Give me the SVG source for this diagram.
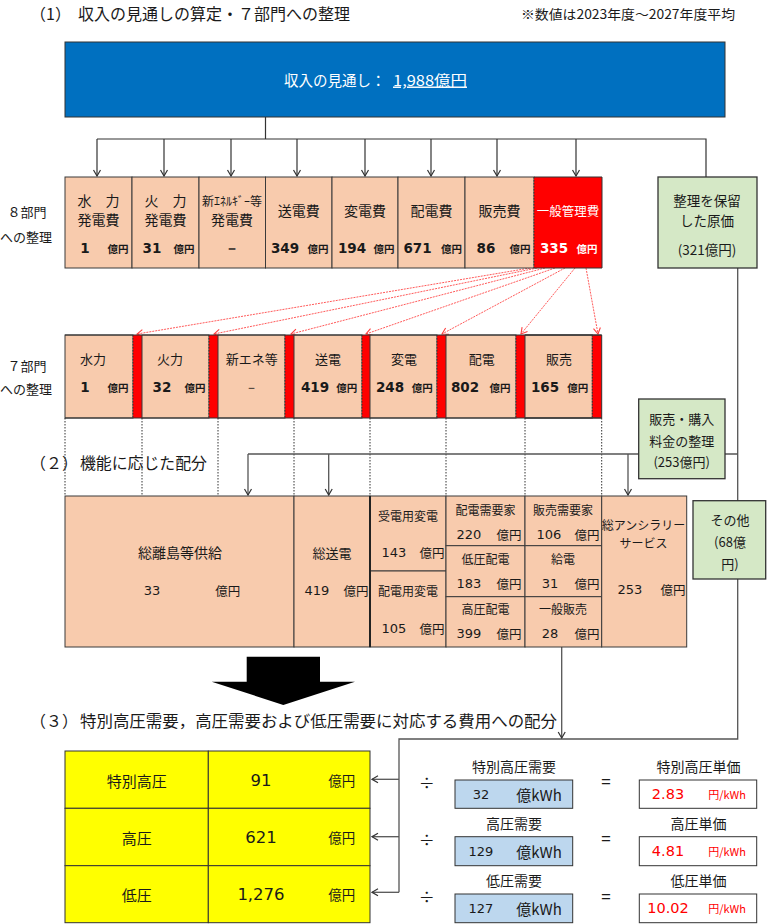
<svg xmlns="http://www.w3.org/2000/svg" width="767" height="924" viewBox="0 0 767 924">
<defs>
<style>
text{font-family:"Noto Sans CJK JP","Noto Sans",sans-serif;fill:#1a1a1a;dominant-baseline:central;text-anchor:middle}
.h{font-size:16px;text-anchor:start}
.note{font-size:13px;text-anchor:start}
.j14{font-size:14px}
.j13{font-size:13px}
.j12{font-size:12px}
.nb{font-family:"DejaVu Sans",Verdana,sans-serif;font-weight:bold;font-size:13.5px}
.ub{font-weight:bold;font-size:10.5px}
.n{font-family:"DejaVu Sans",Verdana,sans-serif;font-size:13px}
.u{font-size:12.5px}
.pe{fill:#F8CBAD;stroke:#3a3a3a;stroke-width:1}
.gr{fill:#D5E8C6;stroke:#333;stroke-width:1.3}
.rd{fill:#FF0000}
.yl{fill:#FFFF00;stroke:#333;stroke-width:1}
.lb{fill:#BDD7EE;stroke:#333;stroke-width:1}
.wb{fill:#fff;stroke:#333;stroke-width:1}
.ln{fill:none;stroke:#555;stroke-width:1.3}
.dk{fill:none;stroke:#333;stroke-width:1.2}
.dot{fill:none;stroke:#333;stroke-width:1;stroke-dasharray:1.5,1.5}
.rl{fill:none;stroke:#FF5A5A;stroke-width:1;stroke-dasharray:2,1}
.red{fill:#FF0000}
.w{fill:#fff}
</style>
<marker id="a" viewBox="-7 -5 8 10" refX="0" refY="0" markerWidth="8" markerHeight="10" markerUnits="userSpaceOnUse" orient="auto"><path d="M-6,-3.5 L0,0 L-6,3.5" fill="none" stroke="#333" stroke-width="1.2"/></marker>
<marker id="ar" viewBox="-7 -5 8 10" refX="0" refY="0" markerWidth="8" markerHeight="10" markerUnits="userSpaceOnUse" orient="auto"><path d="M-6,-3.5 L0,0 L-6,3.5" fill="none" stroke="#FF4040" stroke-width="1.1"/></marker>
</defs>
<rect width="767" height="924" fill="#fff"/>

<g id="titles">
<text class="h" x="30" y="13">（1）</text>
<text class="h" x="78" y="13" textLength="272" lengthAdjust="spacingAndGlyphs">収入の見通しの算定・７部門への整理</text>
<text class="note" x="521" y="13" textLength="214" lengthAdjust="spacingAndGlyphs">※数値は2023年度～2027年度平均</text>
<text class="j13" x="27" y="211">８部門</text>
<text class="j13" x="26" y="236">への整理</text>
<text class="j13" x="27" y="365">７部門</text>
<text class="j13" x="26" y="388">への整理</text>
<text class="h" x="30" y="462">（２）</text>
<text class="h" x="80" y="462" textLength="127" lengthAdjust="spacingAndGlyphs">機能に応じた配分</text>
<text class="h" x="30" y="720">（３）</text>
<text class="h" x="80" y="720" textLength="477" lengthAdjust="spacingAndGlyphs">特別高圧需要，高圧需要および低圧需要に対応する費用への配分</text>
</g>

<g id="connectors">
<path class="dk" d="M265.5,117 V139 M97,139 H706 V177"/>
<path class="dk" marker-end="url(#a)" d="M97,139 V176"/>
<path class="dk" marker-end="url(#a)" d="M164,139 V176"/>
<path class="dk" marker-end="url(#a)" d="M231,139 V176"/>
<path class="dk" marker-end="url(#a)" d="M297,139 V176"/>
<path class="dk" marker-end="url(#a)" d="M365,139 V176"/>
<path class="dk" marker-end="url(#a)" d="M431,139 V176"/>
<path class="dk" marker-end="url(#a)" d="M497,139 V176"/>
<path class="dk" marker-end="url(#a)" d="M576,139 V176"/>
<path class="rl" marker-end="url(#ar)" d="M530,268 L137,334"/>
<path class="rl" marker-end="url(#ar)" d="M537,268 L214,334"/>
<path class="rl" marker-end="url(#ar)" d="M545,268 L291,334"/>
<path class="rl" marker-end="url(#ar)" d="M555,268 L366,334"/>
<path class="rl" marker-end="url(#ar)" d="M565,268 L442,334"/>
<path class="rl" marker-end="url(#ar)" d="M575,268 L521,334"/>
<path class="rl" marker-end="url(#ar)" d="M586,268 L598,334"/>
<path class="dot" d="M65,418 V496 M142,418 V496 M218,418 V496 M294,418 V496 M370,418 V496 M446,418 V496 M525,418 V496 M601.7,418 V496"/>
<path class="ln" d="M737.7,268 V739 H399 V892.3 M248,454 H737.7"/>
<path class="ln" marker-end="url(#a)" d="M248,454 V495"/>
<path class="ln" marker-end="url(#a)" d="M328.7,454 V495"/>
<path class="ln" marker-end="url(#a)" d="M628,454 V495"/>
<path class="ln" marker-end="url(#a)" d="M561.7,647 V738"/>
<path class="ln" marker-end="url(#a)" d="M399,779.3 H372"/>
<path class="ln" marker-end="url(#a)" d="M399,836.7 H372"/>
<path class="ln" marker-end="url(#a)" d="M399,892.3 H372"/>
</g>

<g id="revenue">
<rect x="65" y="42" width="660" height="75" fill="#0070C0" stroke="#333" stroke-width="1"/>
<text class="w" x="284" y="79" style="font-size:14.5px;text-anchor:start">収入の見通し：</text>
<text class="w" x="393" y="79" style="font-size:14.5px;text-anchor:start;text-decoration:underline" textLength="74" lengthAdjust="spacingAndGlyphs">1,988億円</text>
</g>

<g id="c8-hydro"><rect class="pe" x="65" y="177" width="67" height="91"/><text class="j14" x="98.5" y="200">水　力</text><text class="j14" x="98.5" y="219">発電費</text><text class="nb" x="85" y="248">1</text><text class="ub" x="118" y="248">億円</text></g>
<g id="c8-thermal"><rect class="pe" x="132" y="177" width="67" height="91"/><text class="j14" x="165.5" y="200">火　力</text><text class="j14" x="165.5" y="219">発電費</text><text class="nb" x="152" y="248">31</text><text class="ub" x="184" y="248">億円</text></g>
<g id="c8-newenergy"><rect class="pe" x="199" y="177" width="66.5" height="91"/><text class="j12" x="232" y="200">新ｴﾈﾙｷﾞｰ等</text><text class="j14" x="232" y="219">発電費</text><text class="nb" x="232" y="248">－</text></g>
<g id="c8-transmission"><rect class="pe" x="265.5" y="177" width="66.5" height="91"/><text class="j14" x="298.7" y="210">送電費</text><text class="nb" x="285" y="248">349</text><text class="ub" x="318" y="248">億円</text></g>
<g id="c8-transform"><rect class="pe" x="332" y="177" width="66" height="91"/><text class="j14" x="365" y="210">変電費</text><text class="nb" x="352" y="248">194</text><text class="ub" x="384" y="248">億円</text></g>
<g id="c8-distribution"><rect class="pe" x="398" y="177" width="67" height="91"/><text class="j14" x="431.5" y="210">配電費</text><text class="nb" x="417.5" y="248">671</text><text class="ub" x="451.5" y="248">億円</text></g>
<g id="c8-sales"><rect class="pe" x="465" y="177" width="69" height="91"/><text class="j14" x="499.5" y="210">販売費</text><text class="nb" x="486" y="248">86</text><text class="ub" x="520" y="248">億円</text></g>
<g id="c8-admin"><rect class="rd" x="534" y="177" width="68" height="91"/><path d="M534,177 H602 V268 H534" fill="none" stroke="#333" stroke-width="1"/><path class="dot" d="M534,177 V268"/><text class="w" style="font-size:12.5px" x="568" y="210">一般管理費</text><text class="nb w" x="554" y="248">335</text><text class="ub w" x="587" y="248">億円</text></g>

<g id="reserved"><rect class="gr" x="658" y="177" width="99" height="91"/><text style="font-size:13.5px" x="707" y="199.5">整理を保留</text><text style="font-size:13.5px" x="707" y="220">した原価</text><text style="font-size:13.5px" x="707" y="249">(321億円)</text></g>

<g id="d7-hydro"><rect class="pe" x="65" y="335" width="68" height="83"/><rect class="rd" x="133" y="335" width="9" height="83"/><path class="dot" d="M133,335 V418"/><text class="j13" x="93" y="358">水力</text><text class="nb" x="85" y="387">1</text><text class="ub" x="118" y="387">億円</text></g>
<g id="d7-thermal"><rect class="pe" x="142" y="335" width="67" height="83"/><rect class="rd" x="209" y="335" width="9" height="83"/><path class="dot" d="M209,335 V418"/><text class="j13" x="170" y="358">火力</text><text class="nb" x="162" y="387">32</text><text class="ub" x="195" y="387">億円</text></g>
<g id="d7-newenergy"><rect class="pe" x="218" y="335" width="67" height="83"/><rect class="rd" x="285" y="335" width="9" height="83"/><path class="dot" d="M285,335 V418"/><text class="j13" x="251.7" y="358">新エネ等</text><text class="n" x="251.7" y="387">－</text></g>
<g id="d7-transmission"><rect class="pe" x="294" y="335" width="68" height="83"/><rect class="rd" x="362" y="335" width="8" height="83"/><path class="dot" d="M362,335 V418"/><text class="j13" x="328" y="358">送電</text><text class="nb" x="315" y="387">419</text><text class="ub" x="346.7" y="387">億円</text></g>
<g id="d7-transform"><rect class="pe" x="370" y="335" width="67" height="83"/><rect class="rd" x="437" y="335" width="9" height="83"/><path class="dot" d="M437,335 V418"/><text class="j13" x="404" y="358">変電</text><text class="nb" x="390" y="387">248</text><text class="ub" x="422.3" y="387">億円</text></g>
<g id="d7-distribution"><rect class="pe" x="446" y="335" width="70" height="83"/><rect class="rd" x="516" y="335" width="9" height="83"/><path class="dot" d="M516,335 V418"/><text class="j13" x="481.7" y="358">配電</text><text class="nb" x="465" y="387">802</text><text class="ub" x="500" y="387">億円</text></g>
<g id="d7-sales"><rect class="pe" x="525" y="335" width="67.3" height="83"/><rect class="rd" x="592.3" y="335" width="9.4" height="83"/><path class="dot" d="M592.3,335 V418"/><path d="M525,335 H601.7 V418 H525" fill="none" stroke="#333" stroke-width="1"/><text class="j13" x="559" y="358">販売</text><text class="nb" x="545" y="387">165</text><text class="ub" x="577.7" y="387">億円</text></g>
<path d="M65,335 H601.7 M65,418 H601.7" stroke="#333" stroke-width="1" fill="none"/>

<g id="sales-purchase"><rect class="gr" x="638.7" y="399" width="86.3" height="79.7"/><text class="j13" x="681.7" y="418">販売・購入</text><text class="j13" x="681.7" y="440">料金の整理</text><text class="j13" x="681.7" y="461.7">(253億円)</text></g>
<g id="other"><rect class="gr" x="693" y="500.7" width="72.7" height="78.3"/><text class="j13" x="730" y="519">その他</text><text class="j13" x="730" y="541.7">(68億</text><text class="j13" x="730" y="563">円)</text></g>

<g id="f-islands"><rect class="pe" x="65" y="496" width="229" height="151"/><text class="j14" x="180" y="552">総離島等供給</text><text class="n" x="152" y="590">33</text><text class="u" x="227.7" y="590">億円</text></g>
<g id="f-transmission"><rect class="pe" x="294" y="496" width="76" height="151"/><text class="j13" x="332" y="552">総送電</text><text class="n" x="317" y="590">419</text><text class="u" x="356" y="590">億円</text></g>
<g id="f-recv-transform"><rect class="pe" x="370" y="496" width="76" height="75"/><text class="j12" x="408" y="515">受電用変電</text><text class="n" x="394" y="552">143</text><text class="u" x="432" y="552">億円</text></g>
<g id="f-dist-transform"><rect class="pe" x="370" y="571" width="76" height="76"/><text class="j12" x="408" y="590">配電用変電</text><text class="n" x="394" y="628">105</text><text class="u" x="432" y="628">億円</text></g>
<g id="f-dist-cust"><rect class="pe" x="446" y="496" width="79" height="49.7"/><text class="j12" x="485.5" y="509">配電需要家</text><text class="n" x="469" y="534">220</text><text class="u" x="509" y="534">億円</text></g>
<g id="f-lv-dist"><rect class="pe" x="446" y="545.7" width="79" height="51"/><text class="j12" x="485.5" y="558">低圧配電</text><text class="n" x="469" y="583">183</text><text class="u" x="509" y="583">億円</text></g>
<g id="f-hv-dist"><rect class="pe" x="446" y="596.7" width="79" height="50.3"/><text class="j12" x="485.5" y="608">高圧配電</text><text class="n" x="469" y="633">399</text><text class="u" x="509" y="633">億円</text></g>
<g id="f-sales-cust"><rect class="pe" x="525" y="496" width="76.7" height="49.7"/><text class="j12" x="563" y="509">販売需要家</text><text class="n" x="549" y="534">106</text><text class="u" x="587" y="534">億円</text></g>
<g id="f-dispatch"><rect class="pe" x="525" y="545.7" width="76.7" height="51"/><text class="j12" x="563" y="558">給電</text><text class="n" x="550" y="583">31</text><text class="u" x="587" y="583">億円</text></g>
<g id="f-gen-sales"><rect class="pe" x="525" y="596.7" width="76.7" height="50.3"/><text class="j12" x="563" y="608">一般販売</text><text class="n" x="550" y="633">28</text><text class="u" x="587" y="633">億円</text></g>
<g id="f-ancillary"><rect class="pe" x="601.7" y="496" width="85" height="151"/><text class="j12" x="643.5" y="524">総アンシラリー</text><text class="j12" x="643.5" y="542">サービス</text><text class="n" x="630" y="589">253</text><text class="u" x="673" y="589">億円</text></g>
<path d="M370,496 V647" stroke="#222" stroke-width="2"/>

<g id="bigarrow"><path d="M246.7,656.7 H320 V681.7 H355 L283.3,705 L211.7,681.7 H246.7 Z" fill="#000"/></g>

<g id="tbl-extra-high"><rect class="yl" x="65" y="751" width="143.3" height="57.3"/><rect class="yl" x="208.3" y="751" width="161.7" height="57.3"/><text style="font-size:15px" x="136.7" y="780">特別高圧</text><text class="n" style="font-size:16.5px" x="261" y="780">91</text><text style="font-size:13.5px" x="341.7" y="780">億円</text></g>
<g id="tbl-high"><rect class="yl" x="65" y="808.3" width="143.3" height="57.4"/><rect class="yl" x="208.3" y="808.3" width="161.7" height="57.4"/><text style="font-size:15px" x="136.7" y="837">高圧</text><text class="n" style="font-size:16.5px" x="261" y="837">621</text><text style="font-size:13.5px" x="341.7" y="837">億円</text></g>
<g id="tbl-low"><rect class="yl" x="65" y="865.7" width="143.3" height="57"/><rect class="yl" x="208.3" y="865.7" width="161.7" height="57"/><text style="font-size:15px" x="136.7" y="894">低圧</text><text class="n" style="font-size:16.5px" x="261" y="894">1,276</text><text style="font-size:13.5px" x="341.7" y="894">億円</text></g>

<g id="dem-extra-high"><text style="font-size:16px" x="426.7" y="781.7">÷</text><text class="j14" x="514" y="766">特別高圧需要</text><rect class="lb" x="455" y="780" width="117.7" height="28.3"/><text class="n" x="481" y="794">32</text><text style="font-size:15px" x="539" y="794">億kWh</text><text style="font-size:17px" x="606" y="780.7">=</text><text class="j14" x="698.5" y="766">特別高圧単価</text><rect class="wb" x="639.3" y="780" width="117.4" height="28.3"/><text class="n red" style="font-size:14.5px" x="668" y="794">2.83</text><text class="red" style="font-size:11px" x="727" y="794">円/kWh</text></g>
<g id="dem-high"><text style="font-size:16px" x="426.7" y="839">÷</text><text class="j14" x="514" y="822.7">高圧需要</text><rect class="lb" x="455" y="836.7" width="117.7" height="29"/><text class="n" x="481" y="851">129</text><text style="font-size:15px" x="539" y="851">億kWh</text><text style="font-size:17px" x="606" y="837.7">=</text><text class="j14" x="698.5" y="822.7">高圧単価</text><rect class="wb" x="639.3" y="836.7" width="117.4" height="29"/><text class="n red" style="font-size:14.5px" x="668" y="851">4.81</text><text class="red" style="font-size:11px" x="727" y="851">円/kWh</text></g>
<g id="dem-low"><text style="font-size:16px" x="426.7" y="896">÷</text><text class="j14" x="514" y="880">低圧需要</text><rect class="lb" x="455" y="894" width="117.7" height="28.7"/><text class="n" x="481" y="908">127</text><text style="font-size:15px" x="539" y="908">億kWh</text><text style="font-size:17px" x="606" y="895">=</text><text class="j14" x="698.5" y="880">低圧単価</text><rect class="wb" x="639.3" y="894" width="117.4" height="28.7"/><text class="n red" style="font-size:14.5px" x="668" y="908">10.02</text><text class="red" style="font-size:11px" x="727" y="908">円/kWh</text></g>
</svg>
